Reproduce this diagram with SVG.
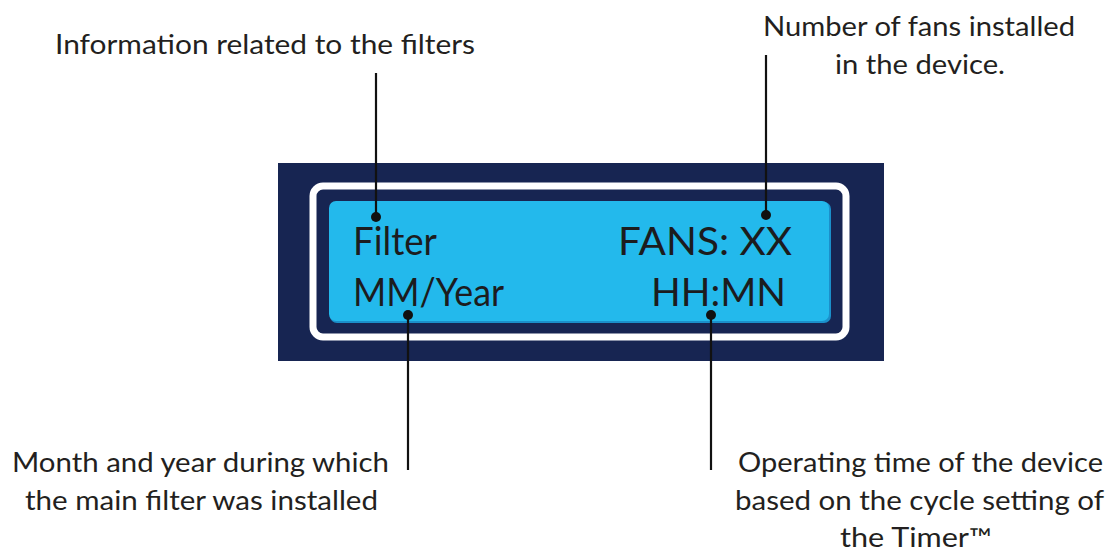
<svg xmlns="http://www.w3.org/2000/svg" width="1114" height="554" viewBox="0 0 1114 554">
<style>
.lbl{font-family:Lato,"Liberation Sans",sans-serif;font-size:26px;fill:#231f20}
.lcd{font-family:Lato,"Liberation Sans",sans-serif;font-size:38px;fill:#1c1c1e}
.lead{stroke:#111;stroke-width:2.2;fill:none}
.dot{fill:#111}
</style>
<rect width="1114" height="554" fill="#ffffff"/>
<g id="display">
<rect x="278" y="163" width="606" height="198" fill="#172552"/>
<rect x="313" y="186" width="533" height="151" rx="10" fill="none" stroke="#ffffff" stroke-width="7"/>
<rect x="330" y="202" width="501" height="121" rx="7" fill="#1b8fca"/>
<rect x="329" y="201" width="500" height="120" rx="7" fill="#23b9ec"/>
</g>
<g id="lcd-text">
<text class="lcd" x="353" y="255" textLength="84" lengthAdjust="spacingAndGlyphs">Filter</text>
<text class="lcd" x="353" y="306" textLength="151" lengthAdjust="spacingAndGlyphs">MM/Year</text>
<text class="lcd" x="618" y="255" textLength="174" lengthAdjust="spacingAndGlyphs">FANS: XX</text>
<text class="lcd" x="651" y="306" textLength="135" lengthAdjust="spacingAndGlyphs">HH:MN</text>
</g>
<g id="connectors">
<line class="lead" x1="376" y1="73" x2="376" y2="217"/>
<circle class="dot" cx="376" cy="217" r="5"/>
<line class="lead" x1="766" y1="55" x2="766" y2="215"/>
<circle class="dot" cx="766" cy="215" r="5"/>
<line class="lead" x1="408" y1="315" x2="408" y2="470"/>
<circle class="dot" cx="408" cy="315" r="5"/>
<line class="lead" x1="711" y1="315" x2="711" y2="470"/>
<circle class="dot" cx="711" cy="315" r="5"/>
</g>
<g id="label-filters">
<text class="lbl" x="55" y="54" textLength="420" lengthAdjust="spacingAndGlyphs">Information related to the filters</text>
</g>
<g id="label-fans">
<text class="lbl" x="763" y="36" textLength="312" lengthAdjust="spacingAndGlyphs">Number of fans installed</text>
<text class="lbl" x="835" y="74" textLength="170" lengthAdjust="spacingAndGlyphs">in the device.</text>
</g>
<g id="label-month">
<text class="lbl" x="12" y="472" textLength="377" lengthAdjust="spacingAndGlyphs">Month and year during which</text>
<text class="lbl" x="25" y="510" textLength="353" lengthAdjust="spacingAndGlyphs">the main filter was installed</text>
</g>
<g id="label-time">
<text class="lbl" x="738" y="472" textLength="365" lengthAdjust="spacingAndGlyphs">Operating time of the device</text>
<text class="lbl" x="735" y="510" textLength="369" lengthAdjust="spacingAndGlyphs">based on the cycle setting of</text>
<text class="lbl" x="840" y="547" textLength="152" lengthAdjust="spacingAndGlyphs">the Timer™</text>
</g>
</svg>
